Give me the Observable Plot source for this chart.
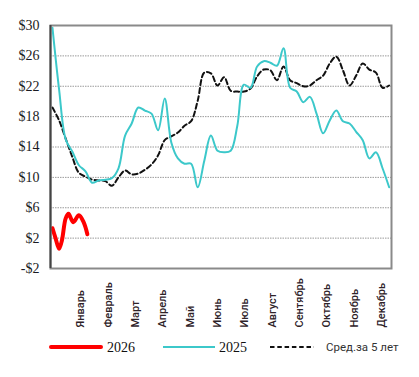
<!DOCTYPE html>
<html><head><meta charset="utf-8">
<script src="https://cdn.jsdelivr.net/npm/d3@7"></script>
<script src="https://cdn.jsdelivr.net/npm/@observablehq/plot@0.6"></script>
<style>
body{margin:0;background:#fff;}
#chart{position:relative;width:419px;height:377px;overflow:hidden;background:#fff}
#legend{position:absolute;left:0;top:335px;width:419px;height:42px}
</style>
</head><body><div id="chart"></div>
<script>
const months = ["Январь","Февраль","Март","Апрель","Май","Июнь","Июль","Август","Сентябрь","Октябрь","Ноябрь","Декабрь"];
const yTicks = [30,26,22,18,14,10,6,2,-2];
const gridValues = [26,22,18,14,10,6,2];
// weekly series (week 1..52)
const series2025 = [29.7,21.6,15.0,13.4,11.6,10.8,9.3,9.6,9.7,9.9,11.2,15.5,17.1,19.2,18.8,18.4,16.2,20.4,14.6,12.5,11.8,11.8,8.7,12.2,15.5,13.5,13.3,13.5,16.8,22.2,21.8,24.6,25.3,25.1,24.7,27.0,21.8,21.3,19.9,20.6,18.4,15.8,17.5,18.8,17.4,17.1,16.0,14.9,12.5,13.3,11.2,8.7];
const series5yr = [19.2,17.5,15.1,12.7,10.6,10.1,9.7,9.6,9.5,8.9,10.0,10.9,10.4,10.5,11.0,11.7,12.9,14.9,15.4,15.9,16.8,17.4,20.1,23.8,23.7,22.1,23.2,21.4,21.3,21.3,21.7,23.3,24.2,24.1,22.8,24.6,22.8,22.4,22.0,22.1,22.8,23.4,25.0,25.9,24.1,22.1,23.4,25.0,24.2,23.8,21.8,22.1];
// 2026 (day of year, value)
const days2026 = [1,4,8,11,15,18,23,29,34,38];
const series2026 = [3.3,2.1,0.6,1.7,4.6,5.2,4.1,5.0,4.1,2.5];

const d2025 = series2025.map((v,i)=>({x:1+7*i,y:v}));
const d5yr = series5yr.map((v,i)=>({x:1+7*i,y:v}));
const d2026 = series2026.map((v,i)=>({x:days2026[i],y:v}));
const monthData = months.map((m,i)=>({x:31+29*i,label:m}));

const chart = Plot.plot({
  width:419, height:335,
  marginLeft:50, marginRight:28, marginTop:25, marginBottom:67,
  style:{fontFamily:"Liberation Serif", fontSize:"14px", color:"#1a1a22", background:"#fff"},
  x:{domain:[-1.1,360.5], axis:null},
  y:{domain:[-2,30], ticks:yTicks, tickSize:0, tickPadding:11, tickFormat:d=>d<0?"-$"+(-d):"$"+d, label:null},
  marks:[
    Plot.ruleY(gridValues,{stroke:"#9a9a9a", strokeWidth:1, strokeDasharray:"1.5,1"}),
    Plot.line(d5yr,{x:"x",y:"y",stroke:"#111",strokeWidth:2,strokeDasharray:"5,3",curve:"catmull-rom"}),
    Plot.line(d2025,{x:"x",y:"y",stroke:"#3cc8ca",strokeWidth:2,curve:"catmull-rom"}),
    Plot.line(d2026,{x:"x",y:"y",stroke:"#ff0000",strokeWidth:4,curve:"catmull-rom",strokeLinecap:"round"}),
    Plot.frame({stroke:"#8a8a8a", strokeWidth:2}),
    Plot.ruleX([-1.1],{stroke:"#444",strokeWidth:2}),
    Plot.text(monthData,{x:"x",y:()=>-2,text:"label",rotate:-90,textAnchor:"start",dy:59,
      fontFamily:"Roboto",fontSize:11,fontWeight:500,fill:"#2e2228",clip:false})
  ]
});
const host = document.getElementById("chart");
host.appendChild(chart);
const leg = document.createElement("div");
leg.id="legend";
leg.innerHTML = `<svg width="419" height="42" xmlns="http://www.w3.org/2000/svg">
<line x1="51" y1="12" x2="101" y2="12" stroke="#ff0000" stroke-width="4" stroke-linecap="round"/>
<text x="107" y="17" font-family="Liberation Serif" font-size="14" fill="#111">2026</text>
<line x1="163" y1="12" x2="215" y2="12" stroke="#3cc8ca" stroke-width="2"/>
<text x="219" y="17" font-family="Liberation Serif" font-size="14" fill="#111">2025</text>
<line x1="270" y1="12" x2="314" y2="12" stroke="#111" stroke-width="2" stroke-dasharray="4.5,2.8"/>
<text x="326" y="16" font-family="Roboto" font-size="11.5" fill="#333">Сред.за 5 лет</text>
</svg>`;
host.appendChild(leg);
</script>
</body></html>
